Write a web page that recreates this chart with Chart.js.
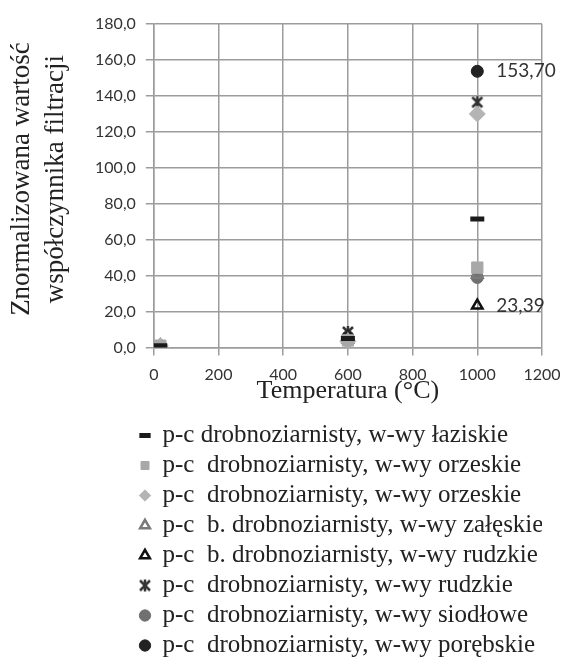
<!DOCTYPE html>
<html>
<head>
<meta charset="utf-8">
<script src="https://cdn.jsdelivr.net/npm/chart.js@4.4.1/dist/chart.umd.min.js"></script>
<style>
    html, body { margin: 0; padding: 0; background: #fff; }
    #wrap { width: 565px; height: 666px; position: relative; }
</style>
</head>
<body>
<div id="wrap"><canvas id="chart"></canvas></div>
<script>
// temperatures (°C)
var temperatures = [20, 600, 1000];

// normalized filtration coefficient per sample
var laziskie = [1, 5, 71.6];
var orzeskieSquare = [1, 4, 44.5];
var orzeskieDiamond = [1, 3.5, 130];
var zaleskie = [1, 4.5, 40.5];
var rudzkieFine = [1, 5.5, 23.39];
var rudzkie = [1, 8.7, 136.5];
var siodlowe = [1, 4, 39];
var porebskie = [1, 6, 153.70];

var seriesLabels = [
    'p-c drobnoziarnisty, w-wy łaziskie',
    'p-c  drobnoziarnisty, w-wy orzeskie',
    'p-c  drobnoziarnisty, w-wy orzeskie',
    'p-c  b. drobnoziarnisty, w-wy załęskie',
    'p-c  b. drobnoziarnisty, w-wy rudzkie',
    'p-c  drobnoziarnisty, w-wy rudzkie',
    'p-c  drobnoziarnisty, w-wy siodłowe',
    'p-c  drobnoziarnisty, w-wy porębskie'
];
var seriesValues = [laziskie, orzeskieSquare, orzeskieDiamond, zaleskie, rudzkieFine, rudzkie, siodlowe, porebskie];

var yTicks = [0, 20, 40, 60, 80, 100, 120, 140, 160, 180];
var xTicks = [0, 200, 400, 600, 800, 1000, 1200];

// points that carry a value label: [series index, point index]
var labelledPoints = [[7, 2], [4, 2]];

var serif = '"Liberation Serif", "Times New Roman", serif';

// excel-like "star" marker: an X with a vertical bar
function starIcon(size, color) {
    var c = document.createElement('canvas');
    c.width = size;
    c.height = size;
    var g = c.getContext('2d');
    g.strokeStyle = color;
    g.lineWidth = 2.5;
    g.beginPath();
    g.moveTo(2, 2); g.lineTo(size - 2, size - 2);
    g.moveTo(size - 2, 2); g.lineTo(2, size - 2);
    g.moveTo(size / 2, 1); g.lineTo(size / 2, size - 1);
    g.stroke();
    return c;
}

var styles = [
    { pointStyle: 'line', radius: 7, bg: '#1a1a1a', border: '#1a1a1a', bw: 5 },
    { pointStyle: 'rect', radius: 8, bg: '#a8a8a8', border: '#a8a8a8', bw: 1 },
    { pointStyle: 'rectRot', radius: 8, bg: '#b4b4b4', border: '#b4b4b4', bw: 1 },
    { pointStyle: 'triangle', radius: 6, bg: 'rgba(255,255,255,0)', border: '#7a7a7a', bw: 2.5 },
    { pointStyle: 'triangle', radius: 6, bg: 'rgba(255,255,255,0)', border: '#111', bw: 2.5 },
    { pointStyle: starIcon(14, '#333'), radius: 7, bg: '#333', border: '#333', bw: 2.5 },
    { pointStyle: 'circle', radius: 6, bg: '#707070', border: '#707070', bw: 1 },
    { pointStyle: 'circle', radius: 6, bg: '#222', border: '#222', bw: 1 }
];

function fmt(v, d) {
    return v.toFixed(d).replace('.', ',');
}

var datasets = seriesValues.map(function(vals, i) {
    var s = styles[i];
    return {
        label: seriesLabels[i],
        data: temperatures.map(function(t, j) { return { x: t, y: vals[j] }; }),
        pointStyle: s.pointStyle,
        pointRadius: s.radius,
        pointHoverRadius: s.radius,
        backgroundColor: s.bg,
        borderColor: s.border,
        pointBorderWidth: s.bw,
        showLine: false
    };
});

var valueLabels = {
    id: 'valueLabels',
    afterDatasetsDraw: function(chart) {
        var ctx = chart.ctx;
        ctx.save();
        ctx.font = '19px Lato';
        ctx.fillStyle = '#333';
        ctx.textBaseline = 'middle';
        ctx.textAlign = 'left';
        labelledPoints.forEach(function(p) {
            var el = chart.getDatasetMeta(p[0]).data[p[1]];
            ctx.fillText(fmt(seriesValues[p[0]][p[1]], 2), el.x + 19, el.y);
        });
        ctx.restore();
    }
};

var legendShift = {
    id: 'legendShift',
    afterLayout: function(chart) {
        chart.legend.left = 135;
        chart.legend.top += 2;
    }
};

new Chart(document.getElementById('chart'), {
    type: 'scatter',
    data: { datasets: datasets },
    plugins: [valueLabels, legendShift],
    options: {
        responsive: true,
        maintainAspectRatio: false,
        animation: false,
        layout: { padding: { top: 24, right: 23, left: 5, bottom: 0 } },
        plugins: {
            tooltip: { enabled: false },
            legend: {
                position: 'bottom',
                align: 'start',
                labels: {
                    usePointStyle: true,
                    boxWidth: 10,
                    boxHeight: 8,
                    padding: 5,
                    color: '#222',
                    font: { family: serif, size: 25 }
                }
            }
        },
        scales: {
            x: {
                type: 'linear',
                min: 0,
                max: 1200,
                afterBuildTicks: function(axis) {
                    axis.ticks = xTicks.map(function(v) { return { value: v }; });
                },
                grid: { color: '#9c9c9c', lineWidth: 1.5, tickLength: 8 },
                border: { color: '#9c9c9c', width: 1.5 },
                ticks: {
                    color: '#333',
                    padding: 4,
                    maxRotation: 0,
                    font: { family: 'Lato', size: 16, lineHeight: 1.9 },
                    callback: function(v) { return String(v); }
                },
                title: {
                    display: true,
                    text: 'Temperatura (°C)',
                    color: '#222',
                    padding: { top: -16, bottom: 12 },
                    font: { family: serif, size: 26, lineHeight: 1 }
                }
            },
            y: {
                type: 'linear',
                min: 0,
                max: 180,
                afterBuildTicks: function(axis) {
                    axis.ticks = yTicks.map(function(v) { return { value: v }; });
                },
                grid: { color: '#9c9c9c', lineWidth: 1.5, tickLength: 8 },
                border: { color: '#9c9c9c', width: 1.5 },
                ticks: {
                    color: '#333',
                    padding: 10,
                    font: { family: 'Lato', size: 16 },
                    callback: function(v) { return fmt(v, 1); }
                },
                title: {
                    display: true,
                    text: ['\u00a0\u00a0Znormalizowana wartość', '\u00a0\u00a0współczynnika filtracji'],
                    color: '#222',
                    padding: { top: 0, bottom: 12 },
                    font: { family: serif, size: 27, lineHeight: 1.26 }
                }
            }
        }
    }
});
</script>
</body>
</html>
